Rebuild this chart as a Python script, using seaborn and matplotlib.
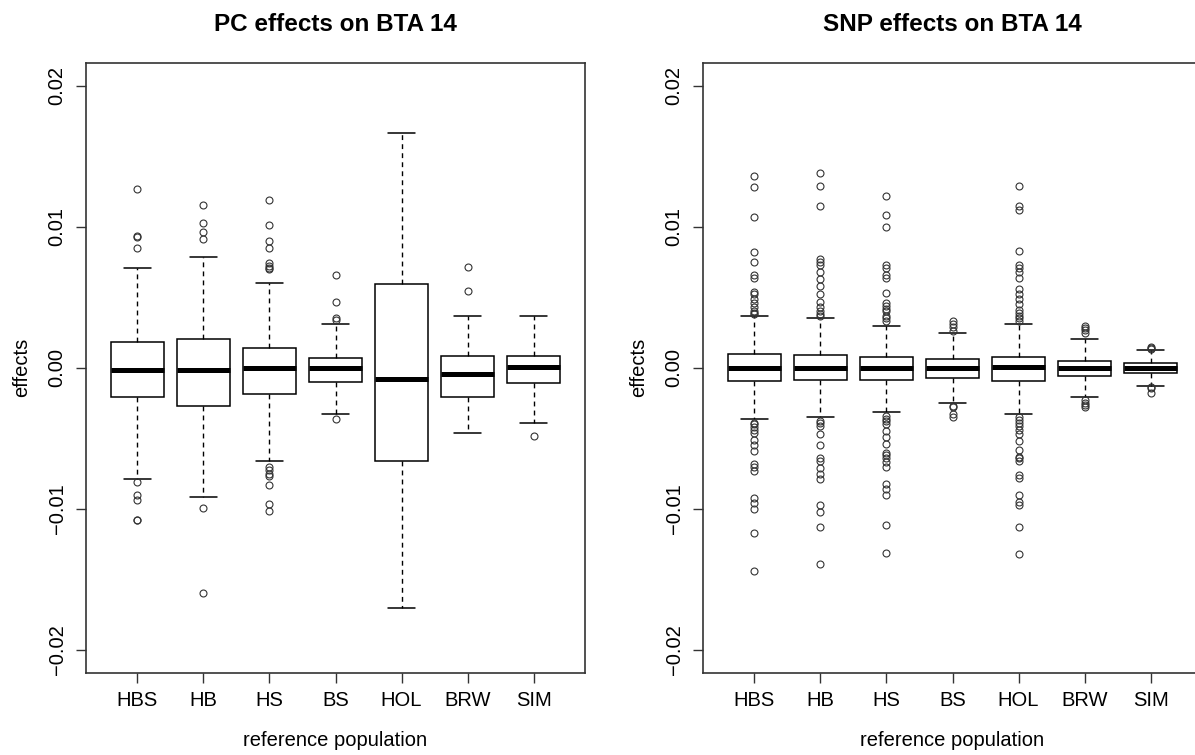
import numpy as np
import pandas as pd
import matplotlib
matplotlib.use("Agg")
import matplotlib.pyplot as plt
import seaborn as sns

# ---------------- data ----------------
categories = ["HBS", "HB", "HS", "BS", "HOL", "BRW", "SIM"]

# PC effects on BTA 14
pc_q1 = [-0.00207, -0.0027, -0.00188, -0.00098, -0.0066, -0.00207, -0.00108]
pc_med = [-0.00016, -0.00016, 0.00002, 0.0, -0.00081, -0.00044, 0.00004]
pc_q3 = [0.00185, 0.00202, 0.00138, 0.00067, 0.00593, 0.00084, 0.00084]
pc_wlo = [-0.00785, -0.00912, -0.0066, -0.00325, -0.0170, -0.0046, -0.0039]
pc_whi = [0.00709, 0.00782, 0.0060, 0.00312, 0.01662, 0.00367, 0.00367]
pc_outliers = [
    [0.0127, 0.00933, 0.00926, 0.00846, -0.00806, -0.0090, -0.00936, -0.01075, -0.01078],
    [0.01153, 0.01023, 0.00961, 0.00914, -0.0099, -0.01592],
    [0.0119, 0.0101, 0.0090, 0.00846, 0.0074, 0.0072, 0.0071, 0.00697,
     -0.00702, -0.00726, -0.0075, -0.00766, -0.00827, -0.00962, -0.01014],
    [0.00659, 0.0047, 0.00353, 0.0034, -0.0036],
    [],
    [0.00718, 0.00544],
    [-0.0048],
]

# SNP effects on BTA 14
snp_q1 = [-0.0009, -0.00088, -0.00088, -0.0007, -0.0009, -0.0006, -0.00033]
snp_med = [0.0, 0.0, 0.0, 0.0, 0.00003, 0.0, 0.0]
snp_q3 = [0.00096, 0.0009, 0.00077, 0.0006, 0.00075, 0.00048, 0.00032]
snp_wlo = [-0.00365, -0.0035, -0.0031, -0.0025, -0.0033, -0.0021, -0.00128]
snp_whi = [0.0037, 0.0035, 0.0030, 0.0025, 0.0031, 0.00205, 0.00128]
snp_outliers = [
    [0.0136, 0.0128, 0.0107, 0.0082, 0.0075, 0.0066, 0.0064, 0.0054, 0.0052, 0.0049,
     0.0046, 0.0043, 0.0040, 0.0039, 0.0038,
     -0.0039, -0.0040, -0.0042, -0.0044, -0.0046, -0.0051, -0.0055, -0.0059, -0.0068,
     -0.0070, -0.0073, -0.0092, -0.0096, -0.0100, -0.0117, -0.0144],
    [0.0138, 0.0129, 0.0115, 0.0077, 0.0075, 0.0073, 0.0068, 0.0063, 0.0058, 0.0052,
     0.0047, 0.0043, 0.0040, 0.0038, 0.0037,
     -0.0038, -0.0039, -0.0041, -0.0047, -0.0055, -0.0064, -0.0066, -0.0071, -0.0075,
     -0.0079, -0.0097, -0.0102, -0.0113, -0.0139],
    [0.0122, 0.0108, 0.0100, 0.0073, 0.0071, 0.0066, 0.0064, 0.0053, 0.0046, 0.0044,
     0.0042, 0.0040, 0.0037, 0.0035, 0.0033,
     -0.0034, -0.0036, -0.0038, -0.0040, -0.0045, -0.0049, -0.0054, -0.0060, -0.0062,
     -0.0064, -0.0067, -0.0070, -0.0082, -0.0086, -0.0090, -0.0111, -0.0131],
    [0.0033, 0.0031, 0.0029, 0.0026, -0.0027, -0.0028, -0.0033, -0.0035],
    [0.0129, 0.0115, 0.0112, 0.0083, 0.0073, 0.0071, 0.0068, 0.0064, 0.0056, 0.0052,
     0.0049, 0.0045, 0.0041, 0.0039, 0.0037, 0.0035, 0.0033,
     -0.0035, -0.0037, -0.0039, -0.0041, -0.0044, -0.0047, -0.0052, -0.0058, -0.0063,
     -0.0064, -0.0066, -0.0076, -0.0078, -0.0090, -0.0095, -0.0097, -0.0113, -0.0132],
    [0.0030, 0.0028, 0.0027, 0.0025, -0.0023, -0.0025, -0.0026, -0.0028],
    [0.0015, 0.0014, 0.00135, -0.00135, -0.00145, -0.0018],
]

ytick_values = [-0.02, -0.01, 0.0, 0.01, 0.02]
ytick_labels = ["\u22120.02", "\u22120.01", "0.00", "0.01", "0.02"]


def build_table(q1, med, q3, wlo, whi, outliers, reps=200):
    """Long-form table whose box statistics equal the values read above."""
    rows = []
    for i, cat in enumerate(categories):
        vals = list(outliers[i]) + [wlo[i], whi[i]]
        vals += [q1[i]] * reps + [med[i]] * reps + [q3[i]] * reps
        rows += [(cat, v) for v in vals]
    return pd.DataFrame(rows, columns=["population", "effect"])


sns.set_style("white")
plt.rcParams["font.family"] = ["Liberation Sans", "DejaVu Sans"]
plt.rcParams["text.color"] = "black"
plt.rcParams["axes.labelcolor"] = "black"

fig = plt.figure(figsize=(11.95, 7.55), dpi=100)
W, H = 1195.0, 755.0
ax_l = fig.add_axes([86 / W, (H - 672.7) / H, 499 / W, (672.7 - 63) / H])
ax_r = fig.add_axes([703 / W, (H - 672.7) / H, 499 / W, (672.7 - 63) / H])

panels = [
    (ax_l, build_table(pc_q1, pc_med, pc_q3, pc_wlo, pc_whi, pc_outliers), "PC effects on BTA 14"),
    (ax_r, build_table(snp_q1, snp_med, snp_q3, snp_wlo, snp_whi, snp_outliers), "SNP effects on BTA 14"),
]

for ax, df, title in panels:
    sns.boxplot(
        data=df, x="population", y="effect", order=categories, ax=ax,
        color="white", saturation=1, linecolor="black", linewidth=1.1,
        width=0.8, whis=1.5, fliersize=5,
        whiskerprops=dict(linestyle=(0, (3.5, 3)), linewidth=1.0),
        capprops=dict(linewidth=1.1),
        medianprops=dict(linewidth=3.6, solid_capstyle="butt"),
        flierprops=dict(marker="o", markerfacecolor="none",
                        markeredgecolor="#333333", markeredgewidth=0.8),
    )
    ax.set_xlim(-0.78, 6.78)
    ax.set_ylim(-0.0216, 0.0216)
    ax.set_yticks(ytick_values)
    ax.set_yticklabels(ytick_labels, rotation=90, va="center")
    ax.tick_params(axis="both", direction="out", length=7, width=1,
                   colors="#333333", labelcolor="black", labelsize=14.5,
                   left=True, bottom=True)
    ax.tick_params(axis="y", pad=7)
    ax.tick_params(axis="x", pad=6)
    for sp in ax.spines.values():
        sp.set_visible(True)
        sp.set_color("#333333")
        sp.set_linewidth(1.2)
    ax.set_xlabel("reference population", fontsize=14.5, labelpad=15, color="black")
    ax.set_ylabel("effects", fontsize=14.5, labelpad=12, color="black")
    ax.set_title(title, fontsize=17.5, fontweight="bold", pad=23, color="black")

fig.savefig("out.png", dpi=100)
